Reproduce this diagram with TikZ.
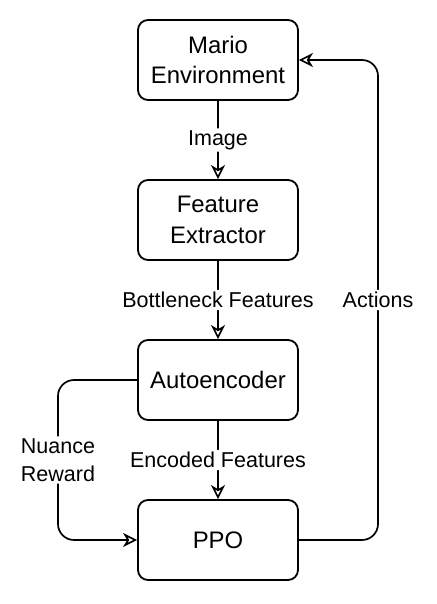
\documentclass[tikz,border=0pt]{standalone}
\usepackage{fontspec}
\setmainfont{Liberation Sans}
\usetikzlibrary{arrows.meta}

\tikzset{
  block/.style={draw, line width=1.3pt, rounded corners=0.25cm, minimum width=4cm,
    minimum height=2cm, align=center, font=\fontsize{17}{22}\selectfont},
  flow/.style={line width=1.2pt, rounded corners=0.4cm,
    -{Stealth[open, length=10pt, width=10pt, inset=3pt]}},
  lbl/.style={fill=white, inner sep=1.5pt, align=center, font=\fontsize{15.3}{20}\selectfont},
}

\begin{document}
\begin{tikzpicture}
    \useasboundingbox (0,0) rectangle (10.9,15.1);

    % Blocs
    \node[block] (mario) at (5.45,13.6) {Mario\\Environment};
    \node[block] (feat)  at (5.45,9.6)  {Feature\\Extractor};
    \node[block] (auto)  at (5.45,5.6)  {Autoencoder};
    \node[block] (ppo)   at (5.45,1.6)  {PPO};

    % Points de passage des retours
    \coordinate (act) at (9.45,7.6);
    \coordinate (rew) at (1.45,3.6);

    % Flux principal
    \draw[flow] (mario) -- (feat) node[midway, lbl]{Image};
    \draw[flow] (feat) -- (auto) node[midway, lbl]{Bottleneck Features};
    \draw[flow] (auto) -- (ppo) node[midway, lbl]{Encoded Features};

    % Retours
    \draw[flow] (ppo.east) -| (act) node[lbl]{Actions} |- (mario.east);
    \draw[flow] (auto.west) -| (rew) node[lbl]{Nuance\\Reward} |- (ppo.west);

\end{tikzpicture}
\end{document}
